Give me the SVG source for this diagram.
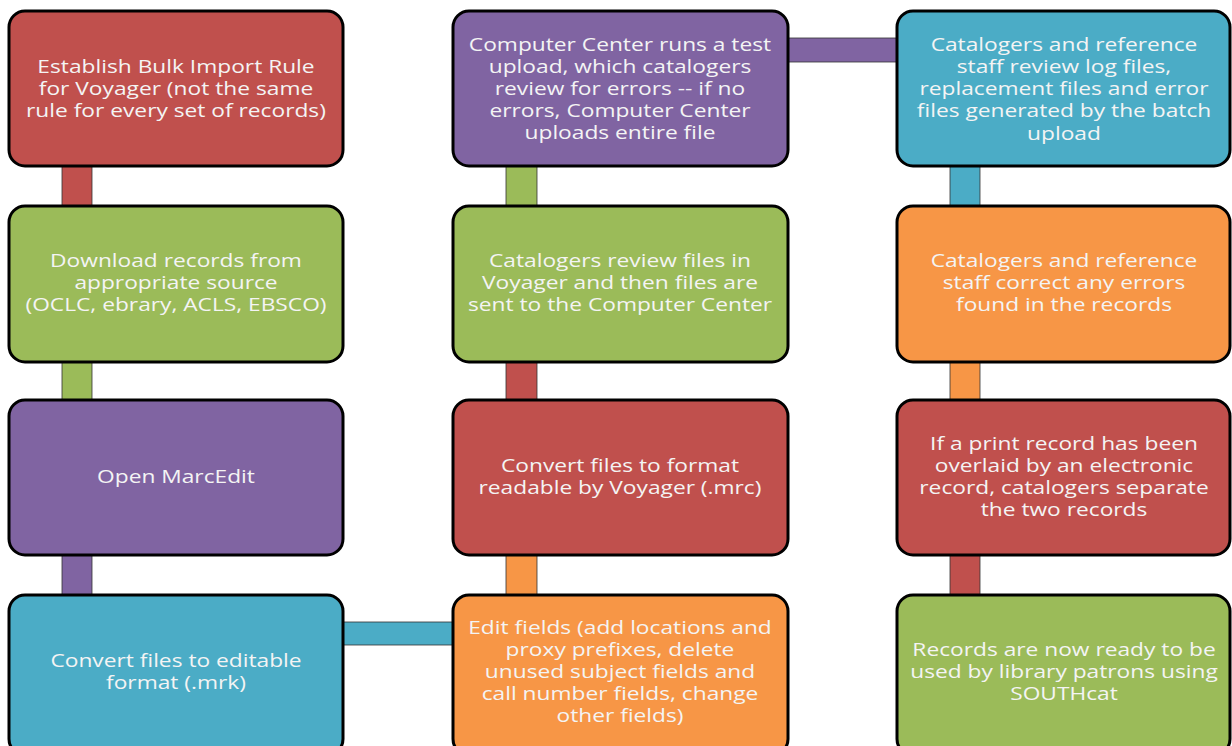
<svg xmlns="http://www.w3.org/2000/svg" width="1232" height="746" viewBox="0 0 1232 746">
<style>
.box{stroke:#000;stroke-width:3}
.t{font-family:"Open Sans","Noto Sans",sans-serif;font-size:17.5px;fill:#F4F4F4;text-anchor:middle}
.red{fill:#C0504D}.green{fill:#9BBB59}.purple{fill:#8064A2}.blue{fill:#4BACC6}.orange{fill:#F79646}
.bar{stroke:#333;stroke-width:0.8}
</style>
<rect width="1232" height="746" fill="#fff"/>
<g id="connectors">
<rect class="bar red" x="62" y="166" width="30" height="40"/>
<rect class="bar green" x="62" y="362" width="30" height="38"/>
<rect class="bar purple" x="62" y="555" width="30" height="40"/>
<rect class="bar blue" x="343" y="622" width="110" height="23"/>
<rect class="bar orange" x="506" y="555" width="31" height="40"/>
<rect class="bar red" x="506" y="362" width="31" height="38"/>
<rect class="bar green" x="506" y="166" width="31" height="40"/>
<rect class="bar purple" x="788" y="38" width="109" height="24"/>
<rect class="bar blue" x="950" y="166" width="30" height="40"/>
<rect class="bar orange" x="950" y="362" width="30" height="38"/>
<rect class="bar red" x="950" y="555" width="30" height="40"/>
</g>
<g id="n1"><rect class="box red" x="9" y="11" width="334" height="155" rx="16"/>
<g transform="translate(176 0) scale(1.3 1)"><text class="t" x="0" y="73">Establish Bulk Import Rule</text><text class="t" x="0" y="95">for Voyager (not the same</text><text class="t" x="0" y="117">rule for every set of records)</text></g></g>
<g id="n2"><rect class="box green" x="9" y="206" width="334" height="156" rx="16"/>
<g transform="translate(176 0) scale(1.3 1)"><text class="t" x="0" y="267">Download records from</text><text class="t" x="0" y="289">appropriate source</text><text class="t" x="0" y="311">(OCLC, ebrary, ACLS, EBSCO)</text></g></g>
<g id="n3"><rect class="box purple" x="9" y="400" width="334" height="155" rx="16"/>
<g transform="translate(176 0) scale(1.3 1)"><text class="t" x="0" y="483">Open MarcEdit</text></g></g>
<g id="n4"><rect class="box blue" x="9" y="595" width="334" height="160" rx="16"/>
<g transform="translate(176 0) scale(1.3 1)"><text class="t" x="0" y="667">Convert files to editable</text><text class="t" x="0" y="689">format (.mrk)</text></g></g>
<g id="n5"><rect class="box orange" x="453" y="595" width="335" height="160" rx="16"/>
<g transform="translate(620 0) scale(1.3 1)"><text class="t" x="0" y="634">Edit fields (add locations and</text><text class="t" x="0" y="656">proxy prefixes, delete</text><text class="t" x="0" y="678">unused subject fields and</text><text class="t" x="0" y="700">call number fields, change</text><text class="t" x="0" y="722">other fields)</text></g></g>
<g id="n6"><rect class="box red" x="453" y="400" width="335" height="155" rx="16"/>
<g transform="translate(620 0) scale(1.3 1)"><text class="t" x="0" y="472">Convert files to format</text><text class="t" x="0" y="494">readable by Voyager (.mrc)</text></g></g>
<g id="n7"><rect class="box green" x="453" y="206" width="335" height="156" rx="16"/>
<g transform="translate(620 0) scale(1.3 1)"><text class="t" x="0" y="267">Catalogers review files in</text><text class="t" x="0" y="289">Voyager and then files are</text><text class="t" x="0" y="311">sent to the Computer Center</text></g></g>
<g id="n8"><rect class="box purple" x="453" y="11" width="335" height="155" rx="16"/>
<g transform="translate(620 0) scale(1.3 1)"><text class="t" x="0" y="51">Computer Center runs a test</text><text class="t" x="0" y="73">upload, which catalogers</text><text class="t" x="0" y="95">review for errors -- if no</text><text class="t" x="0" y="117">errors, Computer Center</text><text class="t" x="0" y="139">uploads entire file</text></g></g>
<g id="n9"><rect class="box blue" x="897" y="11" width="333" height="155" rx="16"/>
<g transform="translate(1064 0) scale(1.3 1)"><text class="t" x="0" y="51">Catalogers and reference</text><text class="t" x="0" y="73">staff review log files,</text><text class="t" x="0" y="95">replacement files and error</text><text class="t" x="0" y="117">files generated by the batch</text><text class="t" x="0" y="140">upload</text></g></g>
<g id="n10"><rect class="box orange" x="897" y="206" width="333" height="156" rx="16"/>
<g transform="translate(1064 0) scale(1.3 1)"><text class="t" x="0" y="267">Catalogers and reference</text><text class="t" x="0" y="289">staff correct any errors</text><text class="t" x="0" y="311">found in the records</text></g></g>
<g id="n11"><rect class="box red" x="897" y="400" width="333" height="155" rx="16"/>
<g transform="translate(1064 0) scale(1.3 1)"><text class="t" x="0" y="450">If a print record has been</text><text class="t" x="0" y="472">overlaid by an electronic</text><text class="t" x="0" y="494">record, catalogers separate</text><text class="t" x="0" y="516">the two records</text></g></g>
<g id="n12"><rect class="box green" x="897" y="595" width="333" height="160" rx="16"/>
<g transform="translate(1064 0) scale(1.3 1)"><text class="t" x="0" y="656">Records are now ready to be</text><text class="t" x="0" y="678">used by library patrons using</text><text class="t" x="0" y="700">SOUTHcat</text></g></g>
</svg>
